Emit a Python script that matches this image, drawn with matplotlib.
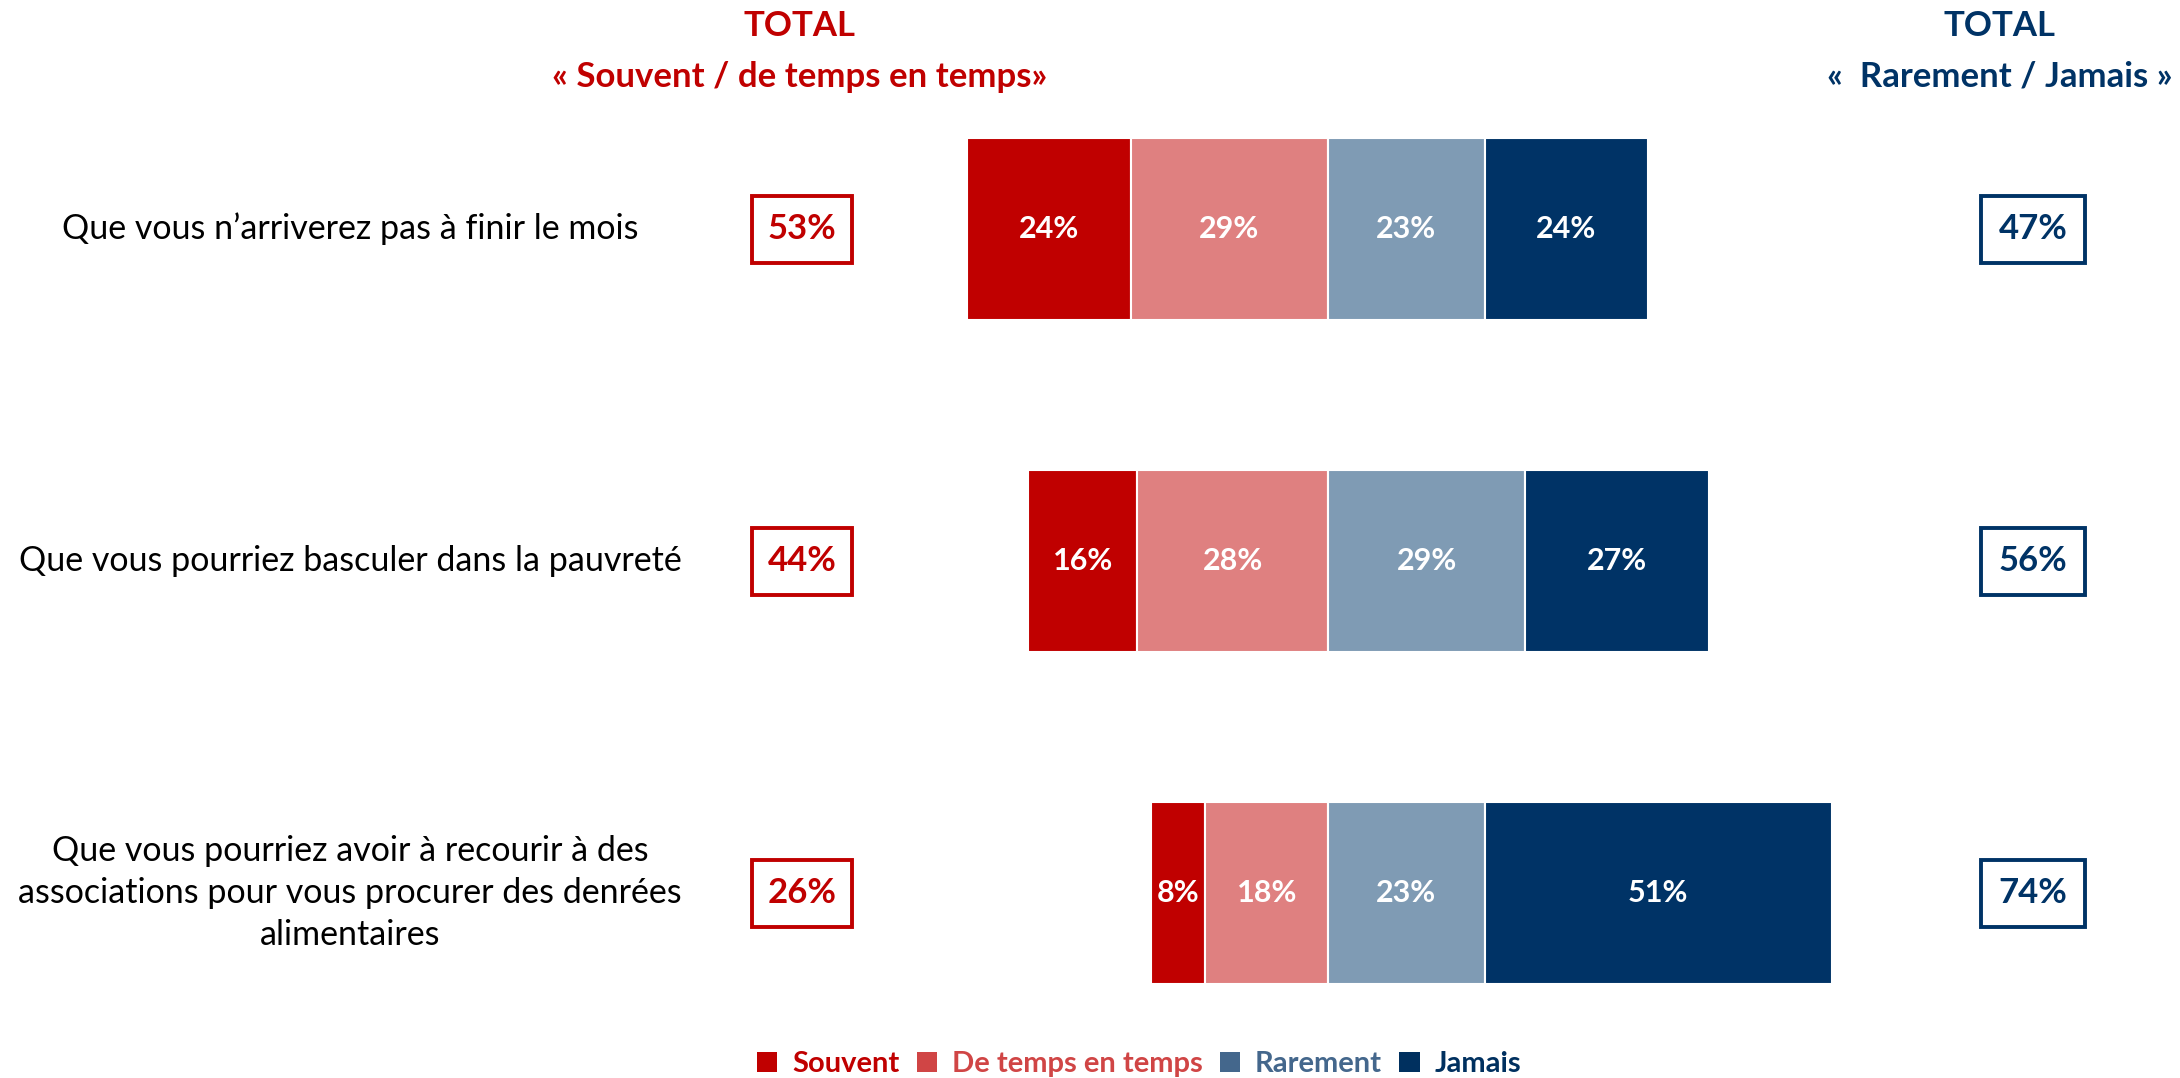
import matplotlib
matplotlib.use("Agg")
import matplotlib.pyplot as plt
from matplotlib.patches import Rectangle, Patch
from matplotlib.transforms import blended_transform_factory

plt.rcParams['font.family'] = ['Lato', 'DejaVu Sans']

categories = [
    "Que vous n\u2019arriverez pas à finir le mois",
    "Que vous pourriez basculer dans la pauvreté",
    "Que vous pourriez avoir à recourir à des\nassociations pour vous procurer des denrées\nalimentaires",
]
souvent = [24, 16, 8]
de_temps = [29, 28, 18]
rarement = [23, 29, 23]
jamais = [24, 27, 51]
total_often = [53, 44, 26]
total_rare = [47, 56, 74]

series_names = ["Souvent", "De temps en temps", "Rarement", "Jamais"]
bar_colors = ["#C00000", "#DF8080", "#7F9BB4", "#003366"]
legend_colors = ["#C00000", "#D04545", "#44678C", "#00305F"]
RED = "#C00000"
BLUE = "#003366"

W, H = 2180, 1078
fig = plt.figure(figsize=(W / 100, H / 100), dpi=100)
ax = fig.add_axes([0, 0, 1, 1])
ax.set_axis_off()

# map: 0% at x=1328px, 6.81 px per percent; rows spaced 332px, first at 229px
px_per_pct = 6.81
x0 = 1328
ax.set_xlim(-x0 / px_per_pct, (W - x0) / px_per_pct)
row_px = 332
first = 229
ax.set_ylim((H - first) / row_px, -first / row_px)

rows = range(len(categories))
bar_h = 182 / row_px
lefts = [
    [-(s + d) for s, d in zip(souvent, de_temps)],
    [-d for d in de_temps],
    [0] * len(rarement),
    list(rarement),
]
vals = [souvent, de_temps, rarement, jamais]

for k in range(4):
    ax.barh(list(rows), vals[k], left=lefts[k], height=bar_h, color=bar_colors[k],
            edgecolor="white", linewidth=1.5)
    for i in rows:
        ax.text(lefts[k][i] + vals[k][i] / 2, i, f"{vals[k][i]}%", ha="center", va="center",
                color="white", fontsize=22, fontweight="bold")

tr = blended_transform_factory(fig.transFigure, ax.transData)
box_h = 67 / row_px
for i in rows:
    ax.text(350 / W, i, categories[i], transform=tr, ha="center", va="center",
            fontsize=24.5, color="black", linespacing=1.4)
    # red total box
    bw = 100 / W
    ax.add_patch(Rectangle((802 / W - bw / 2, i - box_h / 2), bw, box_h, transform=tr,
                           fill=False, edgecolor=RED, linewidth=2.8, clip_on=False))
    ax.text(802 / W, i, f"{total_often[i]}%", transform=tr, ha="center", va="center",
            fontsize=25, fontweight="bold", color=RED)
    bw2 = 104 / W
    ax.add_patch(Rectangle((2033 / W - bw2 / 2, i - box_h / 2), bw2, box_h, transform=tr,
                           fill=False, edgecolor=BLUE, linewidth=2.8, clip_on=False))
    ax.text(2033 / W, i, f"{total_rare[i]}%", transform=tr, ha="center", va="center",
            fontsize=25, fontweight="bold", color=BLUE)

# headers
fig.text(800 / W, 1 - 26 / H, "TOTAL", ha="center", va="center", fontsize=25,
         fontweight="bold", color=RED)
fig.text(800 / W, 1 - 77 / H, "« Souvent / de temps en temps»", ha="center", va="center",
         fontsize=25, fontweight="bold", color=RED)
fig.text(2000 / W, 1 - 26 / H, "TOTAL", ha="center", va="center", fontsize=25,
         fontweight="bold", color=BLUE)
fig.text(2000 / W, 1 - 77 / H, "«  Rarement / Jamais »", ha="center", va="center",
         fontsize=25, fontweight="bold", color=BLUE)

handles = [Patch(facecolor=c, edgecolor="none") for c in legend_colors]
leg = fig.legend(handles, series_names, loc="center", bbox_to_anchor=(1139 / W, 1 - 1064 / H),
                 ncol=4, frameon=False, handlelength=0.7, handleheight=0.7, handletextpad=0.5,
                 columnspacing=0.6, prop={"size": 21, "weight": "bold"})
for t, c in zip(leg.get_texts(), legend_colors):
    t.set_color(c)

fig.savefig("out.png", dpi=100, facecolor="white")
